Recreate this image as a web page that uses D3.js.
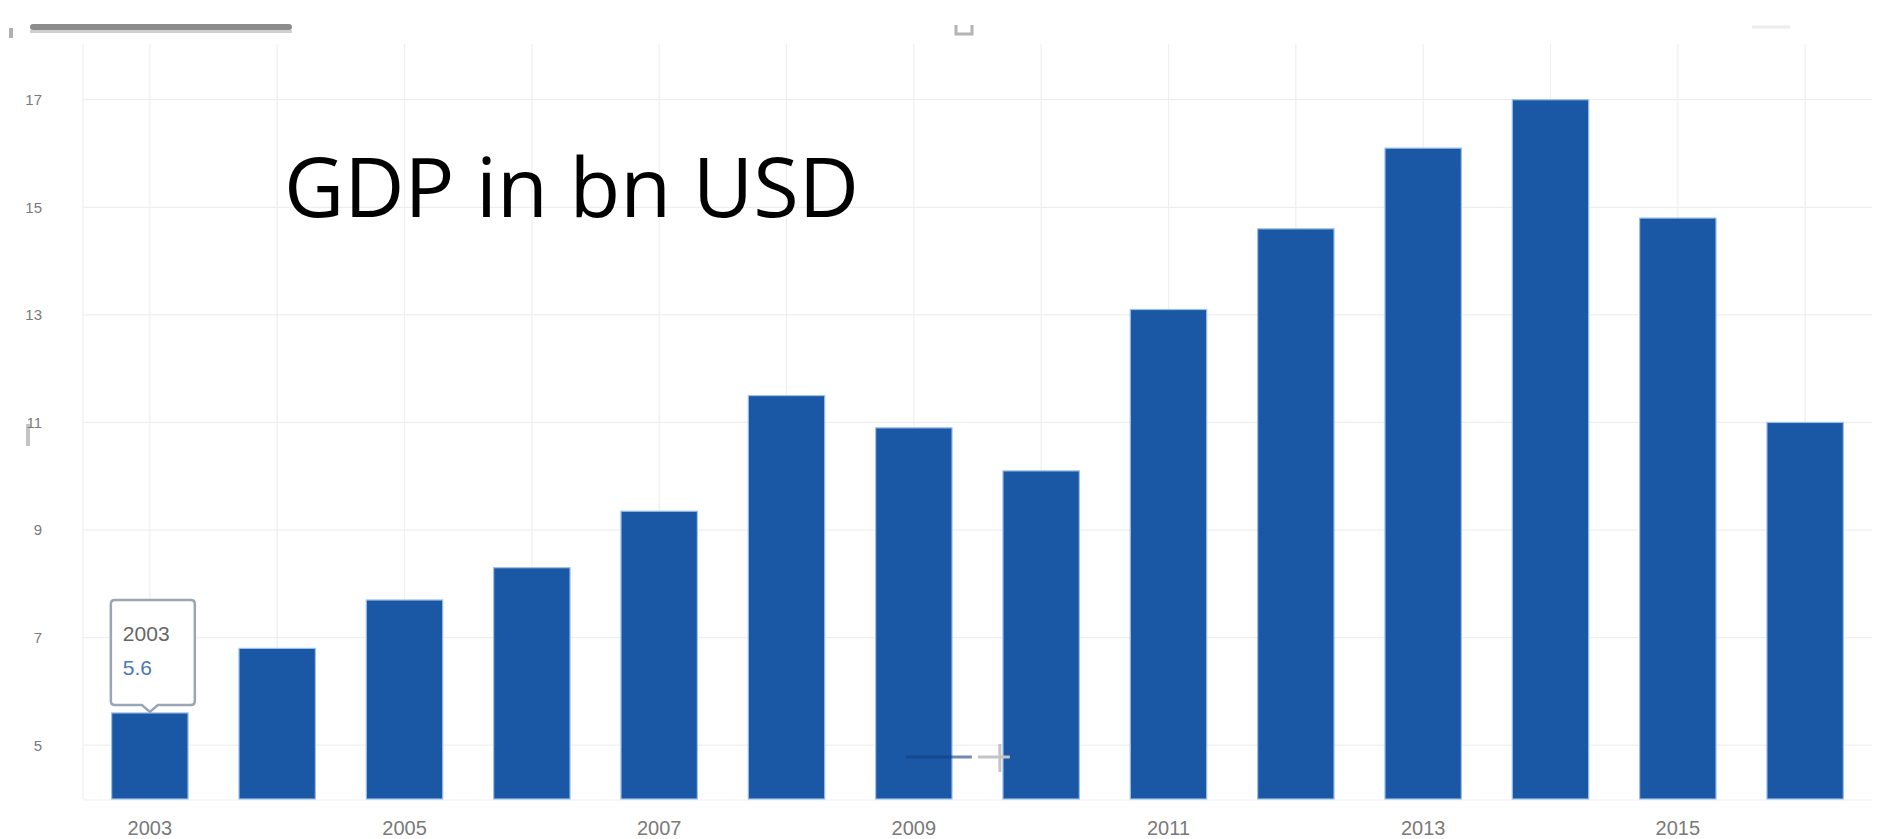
<!DOCTYPE html>
<html lang="en">
<head>
	<meta charset="utf-8">
	<title>GDP in bn USD</title>
	<script src="https://d3js.org/d3.v7.min.js"></script>
	<style type="text/css">
		body { margin: 0; background: #fff; }
		.axis text { font-family: "Liberation Sans", sans-serif; fill: #7a7a7a; }
		.axis path, .axis line { display: none; }
		.grid line { stroke: #efefef; stroke-width: 1.2; }
	</style>
</head>
<body>
	<script type="text/javascript">

		//Chart data
		var years = ["2003", "2004", "2005", "2006", "2007", "2008", "2009", "2010", "2011", "2012", "2013", "2014", "2015", "2016"];
		var gdp = [5.6, 6.8, 7.7, 8.3, 9.35, 11.5, 10.9, 10.1, 13.1, 14.6, 16.1, 17.0, 14.8, 11.0];
		var yTicks = [5, 7, 9, 11, 13, 15, 17];
		var xTickLabels = ["2003", "2005", "2007", "2009", "2011", "2013", "2015"];
		var tipIndex = 0;

		//Size
		var w = 1895;
		var h = 839;
		var plotLeft = 83, plotRight = 1872, plotTop = 54, plotBottom = 799;

		var svg = d3.select("body")
			.append("svg")
			.attr("width", w)
			.attr("height", h);

		//Scales
		var xScale = d3.scaleBand()
			.domain(years)
			.range([plotLeft, plotRight])
			.paddingInner(0.4)
			.paddingOuter(0.225);

		var yScale = d3.scaleLinear()
			.domain([4, 17.85])
			.range([plotBottom, plotTop]);

		//Grid lines
		var grid = svg.append("g").attr("class", "grid");
		grid.selectAll("line.h")
			.data(yTicks)
			.enter()
			.append("line")
			.attr("class", "h")
			.attr("x1", plotLeft)
			.attr("x2", plotRight)
			.attr("y1", function (d) { return yScale(d); })
			.attr("y2", function (d) { return yScale(d); });

		grid.selectAll("line.v")
			.data(years)
			.enter()
			.append("line")
			.attr("class", "v")
			.attr("x1", function (d) { return xScale(d) + xScale.bandwidth() / 2; })
			.attr("x2", function (d) { return xScale(d) + xScale.bandwidth() / 2; })
			.attr("y1", 44)
			.attr("y2", plotBottom);

		grid.append("line").attr("x1", plotLeft).attr("x2", plotLeft).attr("y1", 44).attr("y2", plotBottom);
		grid.append("line").attr("x1", plotLeft).attr("x2", plotRight).attr("y1", plotBottom + 1).attr("y2", plotBottom + 1);

		//Decorative bits from the screenshot (scroll bar, zoom marks)
		svg.append("rect")
			.attr("x", 30).attr("y", 24).attr("width", 262).attr("height", 6)
			.attr("rx", 3)
			.attr("fill", "#8c8c8c");
		svg.append("rect")
			.attr("x", 30).attr("y", 30).attr("width", 262).attr("height", 3)
			.attr("fill", "#d0d0d0");
		svg.append("rect")
			.attr("x", 9).attr("y", 28).attr("width", 4).attr("height", 10)
			.attr("fill", "#b0b0b0");
		svg.append("rect")
			.attr("x", 26).attr("y", 424).attr("width", 4).attr("height", 22)
			.attr("fill", "#c4c4c4");
		svg.append("path")
			.attr("d", "M956,25 L956,34 L972,34 L972,25")
			.attr("fill", "none").attr("stroke", "#b4b4b4").attr("stroke-width", 3);
		svg.append("line")
			.attr("x1", 1752).attr("x2", 1790).attr("y1", 27).attr("y2", 27)
			.attr("stroke", "#ececec").attr("stroke-width", 3);

		//Bars
		svg.selectAll("rect.bar")
			.data(gdp)
			.enter()
			.append("rect")
			.attr("class", "bar")
			.attr("x", function (d, i) { return xScale(years[i]); })
			.attr("y", function (d) { return yScale(d); })
			.attr("width", xScale.bandwidth())
			.attr("height", function (d) { return plotBottom - yScale(d); })
			.attr("fill", "#1a57a5")
			.attr("stroke", "#9cc0ec")
			.attr("stroke-width", 1.2);

		//zoom control marks over 2009 / 2010
		var mx = xScale("2009") + xScale.bandwidth() / 2;
		svg.append("line")
			.attr("x1", mx - 8).attr("x2", mx + 58).attr("y1", 757).attr("y2", 757)
			.attr("stroke", "#123f80").attr("stroke-width", 3).attr("opacity", 0.6);
		svg.append("line")
			.attr("x1", mx + 64).attr("x2", mx + 96).attr("y1", 757).attr("y2", 757)
			.attr("stroke", "#c4c4c4").attr("stroke-width", 3);
		svg.append("line")
			.attr("x1", mx + 86).attr("x2", mx + 86).attr("y1", 744).attr("y2", 772)
			.attr("stroke", "#c4c4c4").attr("stroke-width", 3);

		//Y axis
		var yAxis = d3.axisLeft(yScale)
			.tickValues(yTicks)
			.tickSize(0)
			.tickPadding(0);
		svg.append("g")
			.attr("class", "axis")
			.attr("transform", "translate(42,0)")
			.call(yAxis)
			.selectAll("text")
			.attr("font-size", "15px");

		//X axis
		var xAxis = d3.axisBottom(xScale)
			.tickValues(xTickLabels)
			.tickSize(0)
			.tickPadding(0);
		svg.append("g")
			.attr("class", "axis")
			.attr("transform", "translate(0," + (plotBottom + 22) + ")")
			.call(xAxis)
			.selectAll("text")
			.attr("font-size", "20px");

		//Title
		svg.append("text")
			.attr("x", 284)
			.attr("y", 217)
			.attr("font-family", "'Open Sans', sans-serif")
			.attr("font-size", "83px")
			.attr("fill", "#000")
			.text("GDP in bn USD");

		//Tooltip on the first bar
		var tx = xScale(years[tipIndex]) + xScale.bandwidth() / 2;
		var ty = yScale(gdp[tipIndex]);
		var bx0 = tx - 39, bx1 = tx + 45, by0 = 600, by1 = ty - 8;
		var tip = svg.append("g");
		tip.append("path")
			.attr("d", "M" + (bx0 + 4) + "," + by0 +
				" L" + (bx1 - 4) + "," + by0 +
				" Q" + bx1 + "," + by0 + " " + bx1 + "," + (by0 + 4) +
				" L" + bx1 + "," + (by1 - 4) +
				" Q" + bx1 + "," + by1 + " " + (bx1 - 4) + "," + by1 +
				" L" + (tx + 8) + "," + by1 +
				" L" + tx + "," + (ty - 1) +
				" L" + (tx - 8) + "," + by1 +
				" L" + (bx0 + 4) + "," + by1 +
				" Q" + bx0 + "," + by1 + " " + bx0 + "," + (by1 - 4) +
				" L" + bx0 + "," + (by0 + 4) +
				" Q" + bx0 + "," + by0 + " " + (bx0 + 4) + "," + by0 + " Z")
			.attr("fill", "#fff")
			.attr("stroke", "#9aa5b5")
			.attr("stroke-width", 2.5);
		tip.append("text")
			.attr("x", bx0 + 12)
			.attr("y", 641)
			.attr("font-family", "'Liberation Sans', sans-serif")
			.attr("font-size", "21px")
			.attr("fill", "#666")
			.text(years[tipIndex]);
		tip.append("text")
			.attr("x", bx0 + 12)
			.attr("y", 675)
			.attr("font-family", "'Liberation Sans', sans-serif")
			.attr("font-size", "21px")
			.attr("fill", "#4a78b8")
			.text(d3.format(".1f")(gdp[tipIndex]));

	</script>
</body>
</html>
